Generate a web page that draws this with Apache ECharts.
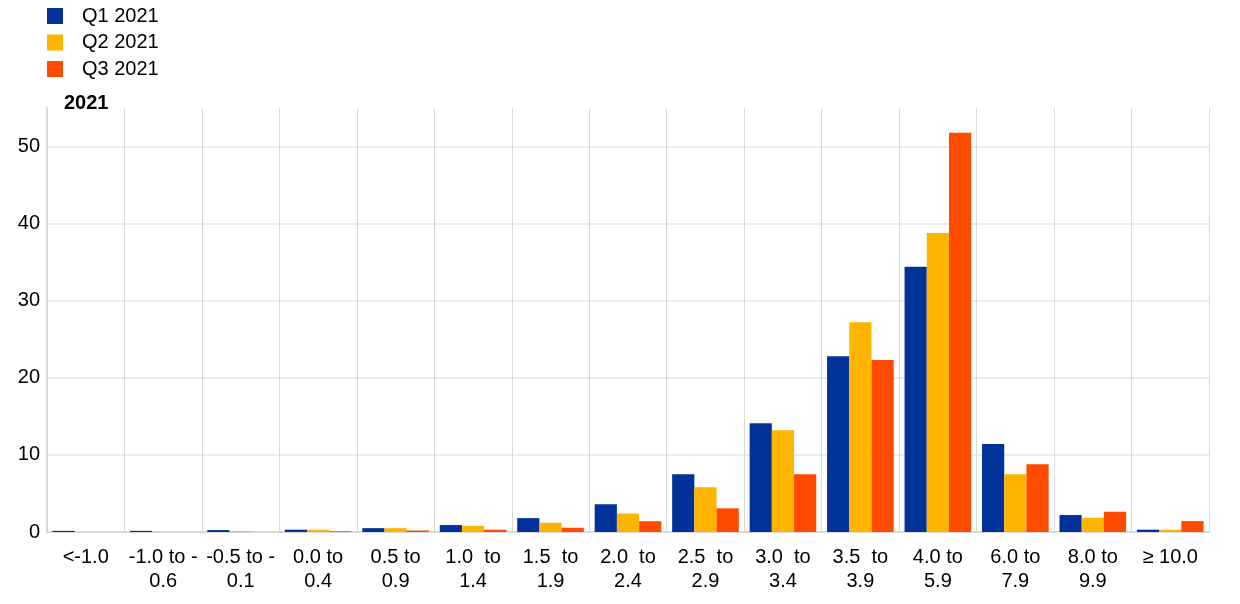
<!DOCTYPE html>
<html>
<head>
<meta charset="utf-8">
<script src="https://cdn.jsdelivr.net/npm/echarts@6/dist/echarts.min.js"></script>
<style>html,body{margin:0;padding:0;background:#fff}#c{width:1240px;height:604px}</style>
</head>
<body>
<div id="c"></div>
<script>
var categories = ['<-1.0', '-1.0 to -\n0.6', '-0.5 to -\n0.1', '0.0 to\n0.4', '0.5 to\n0.9', '1.0  to\n1.4', '1.5  to\n1.9', '2.0  to\n2.4', '2.5  to\n2.9', '3.0  to\n3.4', '3.5  to\n3.9', '4.0 to\n5.9', '6.0 to\n7.9', '8.0 to\n9.9', '\u2265 10.0'];
var q1 = [0.15, 0.15, 0.25, 0.3, 0.5, 0.9, 1.8, 3.6, 7.5, 14.1, 22.8, 34.4, 11.4, 2.2, 0.3];
var q2 = [0, 0, 0.1, 0.3, 0.5, 0.8, 1.2, 2.4, 5.8, 13.2, 27.2, 38.8, 7.5, 1.85, 0.3];
var q3 = [0, 0, 0, 0.1, 0.2, 0.3, 0.55, 1.4, 3.07, 7.5, 22.3, 51.8, 8.8, 2.63, 1.42];
var seriesNames = ['Q1 2021', 'Q2 2021', 'Q3 2021'];
var colors = ['#003299', '#FFB400', '#FF4B00'];
var font = 'Liberation Sans, Arial, sans-serif';

var chart = echarts.init(document.getElementById('c'), null, {renderer: 'canvas'});
function mk(name, data, color) {
  return {name: name, type: 'bar', data: data, barGap: '0%', barCategoryGap: '14%',
    itemStyle: {color: color}};
}
chart.setOption({
  animation: false,
  color: colors,
  title: {text: '2021', left: 59, top: 88, textStyle: {fontFamily: font, fontSize: 20, fontWeight: 'bold', color: '#000'}},
  legend: {
    orient: 'vertical', left: 42, top: 1, icon: 'rect', itemWidth: 16, itemHeight: 16, itemGap: 6.5,
    textStyle: {fontFamily: font, fontSize: 20, color: '#000', padding: [0, 0, 0, 14]},
    data: seriesNames
  },
  grid: {left: 47, right: 31, top: 108, bottom: 72, containLabel: false},
  xAxis: {
    type: 'category', data: categories,
    axisLine: {show: true, lineStyle: {color: '#d9d9d9', width: 2}},
    axisTick: {show: false},
    splitLine: {show: true, lineStyle: {color: '#d9d9d9', width: 1}},
    axisLabel: {interval: 0, fontFamily: font, fontSize: 20, color: '#000', margin: 13, lineHeight: 24}
  },
  yAxis: {
    type: 'value', min: 0, max: 55, interval: 10,
    axisLine: {show: true, lineStyle: {color: '#d9d9d9', width: 2}},
    axisTick: {show: false},
    splitLine: {show: true, lineStyle: {color: ['#d9d9d9', '#e6e6e6', '#e6e6e6', '#e6e6e6', '#e6e6e6', '#e6e6e6', 'rgba(0,0,0,0)'], width: 1.5}},
    axisLabel: {fontFamily: font, fontSize: 20, color: '#000', margin: 7, showMaxLabel: false}
  },
  series: [mk(seriesNames[0], q1, colors[0]), mk(seriesNames[1], q2, colors[1]), mk(seriesNames[2], q3, colors[2])]
});
</script>
</body>
</html>
